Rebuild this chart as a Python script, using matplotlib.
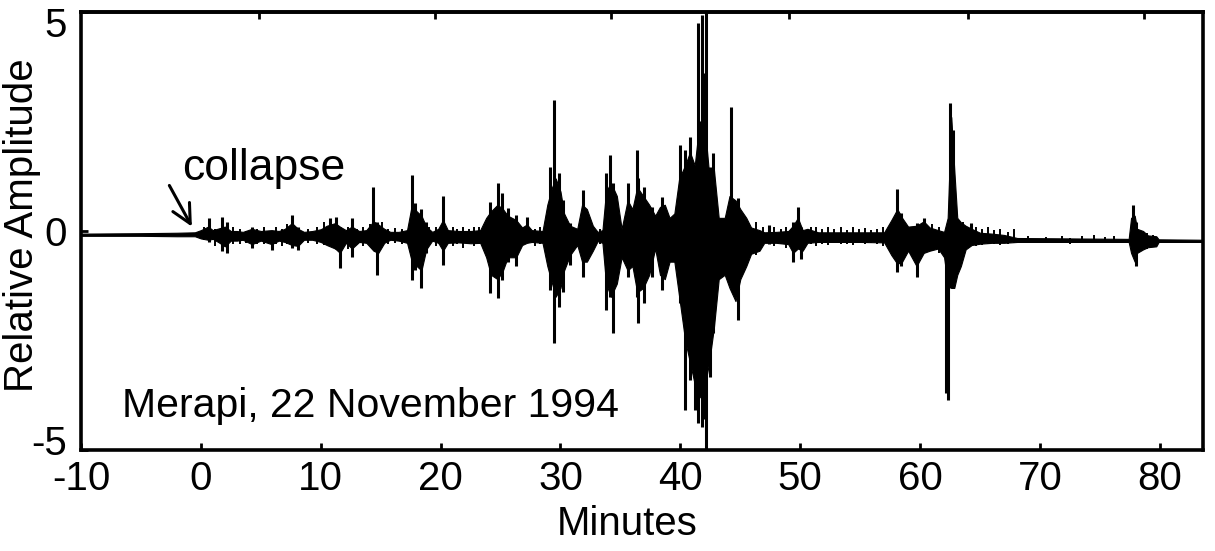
import matplotlib
matplotlib.use("Agg")
import matplotlib.pyplot as plt
import matplotlib.transforms as mtransforms

plt.rcParams['font.family'] = ['Liberation Sans', 'DejaVu Sans']
plt.rcParams['axes.unicode_minus'] = False

# ---- data (minutes, relative amplitude) ----
# background envelope of the seismic trace
env_t = [-10, -5, -2, -0.5, 0.0, 0.6, 1.0, 1.5, 2.0, 2.5, 3.0, 3.5, 4.25, 5.0, 5.9,
         6.5, 7.0, 7.6, 8.1, 8.6, 9.3, 10.0, 10.5, 11.2, 11.6, 12.1, 12.6, 13.2,
         13.8, 14.4, 14.8, 15.3, 15.8, 16.5, 17.2, 17.6, 18.0, 18.4, 18.8, 19.3,
         19.8, 20.2, 20.6, 21.5, 22.5, 23.3, 23.8, 24.2, 24.75, 25.2, 25.6, 26.3,
         26.8, 27.2, 27.6, 28.5, 28.9, 29.3, 29.6, 30.0, 30.3, 30.8, 31.4, 31.8,
         32.2, 32.7, 33.1, 33.5, 33.8, 34.2, 34.7, 35.1, 35.6, 36.0, 36.4, 36.9,
         37.4, 37.9, 38.3, 38.7, 39.1, 39.5, 39.9, 40.4, 40.8, 41.2, 41.6, 42.0,
         42.4, 42.8, 43.2, 43.7, 44.1, 44.6, 45.0, 45.5, 45.9, 46.6, 47.0, 48.0,
         49.0, 49.4, 49.8, 50.2, 50.6, 51.5, 53.0, 55.0, 57.0, 57.6, 58.1, 58.5,
         59.0, 59.7, 60.3, 60.8, 61.5, 62.0, 62.3, 62.6, 62.85, 63.1, 63.4, 63.8,
         64.3, 65.0, 66.0, 67.0, 68.1, 77.4, 77.6, 77.9, 78.1, 78.6, 79.0, 79.7,
         79.9, 83.7]
env_hi = [-0.06, -0.05, -0.04, -0.03, 0.02, 0.10, 0.02, 0.06, 0.10, 0.0, 0.0, -0.02, 0.05, 0.0, 0.02,
          0.0, 0.05, 0.18, 0.05, -0.02, 0.0, 0.04, 0.12, 0.18, 0.10, 0.02, 0.10, 0.0,
          0.02, 0.22, 0.15, 0.05, -0.02, -0.02, 0.02, 0.60, 0.45, 0.35, 0.10, -0.02,
          0.05, 0.25, 0.02, 0.0, 0.0, 0.02, 0.30, 0.45, 0.60, 0.50, 0.35, 0.25,
          0.08, 0.15, 0.02, 0.0, 0.60, 1.00, 1.20, 0.90, 0.40, 0.12, 0.05, 0.60,
          0.50, 0.12, -0.02, 0.02, 0.90, 1.10, 0.80, 0.05, 0.70, 0.50, 1.00, 0.80,
          0.60, 0.35, 0.55, 0.60, 0.30, 0.40, 1.20, 1.50, 1.80, 1.50, 2.50, 2.50,
          1.30, 1.40, 0.30, 0.30, 0.80, 0.70, 0.50, 0.30, 0.08, 0.02, -0.03, -0.02,
          0.0, 0.12, 0.30, 0.02, 0.05, -0.03, -0.03, -0.03, -0.03, 0.25, 0.50, 0.30,
          0.10, 0.12, 0.22, 0.08, 0.02, -0.02, 0.30, 2.60, 1.40, 0.30, 0.20, 0.12,
          0.05, -0.04, -0.06, -0.09, -0.16, -0.18, 0.30, 0.35, 0.05, 0.0, -0.10, -0.12,
          -0.19, -0.20]
env_lo = [-0.11, -0.11, -0.12, -0.12, -0.17, -0.20, -0.18, -0.26, -0.35, -0.22, -0.22, -0.20, -0.30, -0.22, -0.30,
          -0.22, -0.25, -0.32, -0.34, -0.20, -0.20, -0.25, -0.32, -0.40, -0.50, -0.27, -0.40, -0.25,
          -0.27, -0.45, -0.50, -0.27, -0.20, -0.22, -0.27, -0.70, -0.80, -0.90, -0.42, -0.22,
          -0.27, -0.45, -0.27, -0.26, -0.28, -0.27, -0.60, -1.00, -1.10, -0.90, -0.60, -0.60,
          -0.32, -0.27, -0.25, -0.27, -0.80, -1.20, -1.50, -1.30, -0.90, -0.55, -0.32, -0.70,
          -0.70, -0.45, -0.23, -0.27, -1.20, -1.50, -1.20, -0.60, -0.90, -0.80, -1.40, -1.30,
          -1.00, -0.40, -1.00, -1.10, -0.70, -0.70, -1.50, -2.50, -3.00, -3.50, -3.80, -3.60,
          -3.00, -2.20, -1.10, -1.00, -1.30, -1.60, -1.10, -0.80, -0.52, -0.45, -0.27, -0.27,
          -0.30, -0.50, -0.40, -0.45, -0.27, -0.25, -0.25, -0.25, -0.26, -0.55, -0.75, -0.70,
          -0.45, -0.80, -0.50, -0.45, -0.40, -0.60, -1.20, -1.30, -1.30, -1.00, -0.80, -0.42,
          -0.32, -0.29, -0.27, -0.27, -0.25, -0.25, -0.50, -0.70, -0.50, -0.42, -0.37, -0.35,
          -0.25, -0.25]

# individual sharp peaks of the trace
spike_t = [0.64, 1.8, 2.2, 4.25, 5.9, 7.6, 8.1, 10.8, 11.3, 11.6, 12.6, 14.4, 14.7,
           17.6, 17.9, 18.4, 18.8, 20.2, 24.1, 24.75, 25.1, 25.6, 26.3, 27.2,
           29.1, 29.5, 29.9, 30.2, 30.8, 31.9, 33.8, 34.15, 34.4, 35.6, 36.35, 36.5,
           37.0, 37.6, 38.5, 39.95, 40.4, 40.8, 41.2, 41.45, 41.8, 42.0, 42.15,
           42.45, 42.7, 44.25, 44.8, 47.4, 49.4, 49.8, 50.1, 58.1, 58.4, 59.7, 60.3,
           62.2, 62.3, 62.5, 62.75, 64.25, 77.8, 78.0]
spike_hi = [0.29, 0.33, 0.20, 0.09, 0.0, 0.37, 0.10, 0.30, 0.33, 0.10, 0.29, 1.01, 0.20,
            1.28, 0.64, 0.50, 0.21, 0.80, 0.67, 1.09, 0.87, 0.52, 0.37, 0.33,
            1.47, 2.99, 1.32, 0.71, 0.18, 0.94, 1.32, 1.74, 1.09, 1.09, 1.85, 1.20,
            1.01, 0.55, 0.78, 1.96, 1.85, 2.15, 1.00, 4.74, 4.93, 3.60, 5.50,
            1.47, 1.77, 2.84, 0.75, 0.14, 0.20, 0.54, 0.10, 0.95, 0.40, 0.18, 0.29,
            0.0, 0.0, 2.92, 2.30, 0.18, 0.59, 0.20]
spike_lo = [-0.24, -0.45, -0.51, -0.39, -0.43, -0.39, -0.43, -0.30, -0.40, -0.85, -0.59, -0.30, -1.00,
            -1.12, -0.90, -1.31, -0.50, -0.78, -1.42, -1.54, -1.12, -0.70, -0.81, -0.25,
            -1.35, -2.56, -1.73, -1.39, -0.78, -1.04, -1.80, -1.50, -2.34, -1.04, -1.50, -2.11,
            -1.65, -1.04, -1.35, -1.65, -4.09, -3.40, -4.09, -4.39, -4.47, -4.30, -5.50,
            -3.33, -2.34, -1.00, -2.03, -0.30, -0.70, -0.30, -0.65, -0.93, -0.81, -1.04, -0.40,
            -3.70, -3.86, -1.30, -1.20, -0.30, -0.40, -0.80]

# small wiggles of the background noise
ripple_t = [0.3, 1.2, 2.7, 3.3, 3.8, 4.7, 5.3, 6.3, 6.8, 7.2, 8.9, 9.7, 10.3, 12.3,
            13.0, 13.5, 14.1, 15.1, 15.6, 16.2, 16.8, 19.0, 19.6, 21.0, 21.4, 21.9,
            22.4, 22.8, 23.2, 27.9, 28.3, 33.3, 45.7, 46.3, 46.9, 47.8, 48.4, 48.8,
            50.9, 51.3, 51.8, 52.3, 52.8, 53.4, 53.9, 54.4, 54.9, 55.4, 55.9, 56.4,
            56.9, 61.0, 61.6, 63.6, 64.7, 65.2, 65.7, 66.2, 66.7, 67.3, 67.8, 69.0,
            70.5, 71.8, 72.5, 73.5, 74.5, 75.4, 76.2, 78.9, 79.4]
ripple_hi = [0.10, 0.05, 0.10, 0.05, 0.0, 0.05, 0.08, 0.10, 0.05, 0.15, 0.05, 0.08, 0.20, 0.10,
             0.05, 0.08, 0.15, 0.20, 0.05, 0.06, 0.05, 0.08, 0.10, 0.10, 0.05, 0.10,
             0.05, 0.10, 0.08, 0.05, 0.10, 0.05, 0.15, 0.20, 0.10, 0.08, 0.05, 0.10,
             0.08, 0.10, 0.05, 0.08, 0.05, 0.10, 0.03, 0.08, 0.05, 0.06, 0.02, 0.05,
             0.10, 0.15, 0.10, 0.20, 0.10, 0.05, 0.08, 0.03, 0.05, -0.02, 0.05, -0.12,
             -0.13, -0.12, -0.16, -0.12, -0.10, -0.14, -0.11, -0.05, -0.08]
ripple_lo = [-0.20, -0.35, -0.30, -0.30, -0.28, -0.30, -0.30, -0.30, -0.35, -0.30, -0.28, -0.30, -0.32, -0.40,
             -0.30, -0.35, -0.35, -0.30, -0.30, -0.28, -0.30, -0.30, -0.35, -0.35, -0.30, -0.38,
             -0.30, -0.35, -0.30, -0.35, -0.30, -0.30, -0.50, -0.55, -0.30, -0.35, -0.30, -0.38,
             -0.30, -0.35, -0.30, -0.32, -0.28, -0.30, -0.30, -0.32, -0.28, -0.30, -0.28, -0.30,
             -0.35, -0.45, -0.50, -0.50, -0.35, -0.33, -0.30, -0.30, -0.32, -0.30, -0.28, -0.25,
             -0.24, -0.24, -0.30, -0.25, -0.24, -0.25, -0.25, -0.40, -0.35]

x_ticks = [-10, 0, 10, 20, 30, 40, 50, 60, 70, 80]
y_ticks = [-5, 0, 5]
top_ticks = [4.83, 19.5, 34.25, 49.1, 64.0, 78.7]

# ---- figure ----
W, H = 1215, 551
fig = plt.figure(figsize=(W / 100, H / 100), dpi=100)
ax = fig.add_axes([81 / W, 1 - 450 / H, (1203 - 81) / W, (450 - 12) / H])

ax.fill_between(env_t, env_lo, env_hi, color='black', linewidth=0.8)
ax.vlines(spike_t, spike_lo, spike_hi, color='black', linewidth=2.2)
ax.vlines(ripple_t, ripple_lo, ripple_hi, color='black', linewidth=1.4)

ax.set_xlim(-10, 83.6)
ax.set_ylim(-5, 5)

ax.set_xticks(x_ticks)
ax.set_xticklabels([str(v) for v in x_ticks])
ax.set_yticks(y_ticks)
ax.set_yticklabels([str(v) for v in y_ticks])
ax.tick_params(axis='both', direction='in', length=5, width=2, labelsize=29)
ax.tick_params(axis='x', pad=7)
ax.tick_params(axis='y', pad=10)

sec = ax.secondary_xaxis('top')
sec.set_xticks(top_ticks)
sec.set_xticklabels([])
sec.tick_params(direction='in', length=5, width=2)
for s in sec.spines.values():
    s.set_linewidth(2.6)

for s in ax.spines.values():
    s.set_linewidth(2.6)

# nudge outer y tick labels inward like in the reference
labs = ax.get_yticklabels()
labs[0].set_transform(labs[0].get_transform() + mtransforms.ScaledTranslation(0, 10 / 100, fig.dpi_scale_trans))
labs[-1].set_transform(labs[-1].get_transform() + mtransforms.ScaledTranslation(0, -10 / 100, fig.dpi_scale_trans))

ax.set_xlabel('Minutes', fontsize=29)
ax.xaxis.set_label_coords(0.487, -0.125)
ax.set_ylabel('Relative Amplitude', fontsize=29)
ax.yaxis.set_label_coords(-0.036, 0.514)

ax.text(-1.58, 1.16, 'collapse', fontsize=32, ha='left', va='baseline')
ax.annotate('', xy=(-0.75, 0.1), xytext=(-2.63, 1.04),
            arrowprops=dict(arrowstyle='->', lw=2.2, mutation_scale=34, color='black',
                            shrinkA=0, shrinkB=0))
ax.text(-6.6, -4.25, 'Merapi, 22 November 1994', fontsize=29.5, ha='left', va='baseline')

fig.savefig('out.png', dpi=100)
